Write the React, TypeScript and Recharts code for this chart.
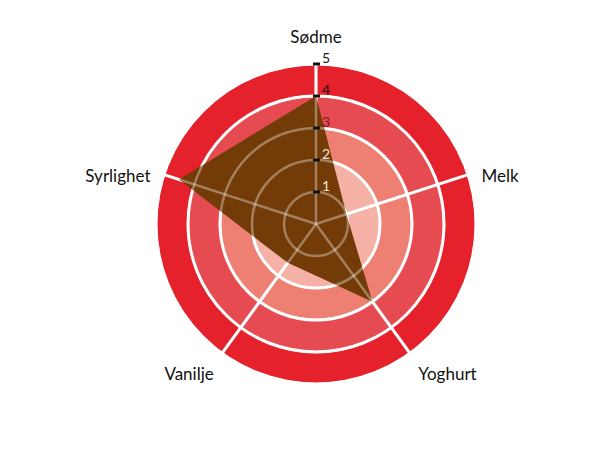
import React from 'react';
import { RadarChart, Radar, PolarGrid, PolarAngleAxis, PolarRadiusAxis, PieChart, Pie } from 'recharts';

const categories = ['Sødme', 'Melk', 'Yoghurt', 'Vanilje', 'Syrlighet'];
const values = [4, 1, 3, 1.5, 4.5];
const radiusDomain = [0, 5];
const ringLevels = [1, 2, 3, 4, 5];
const ringColors = ['#f9d3cb', '#f5b1a6', '#ee8073', '#e64b51', '#e5212b'];

const data = categories.map((c, i) => ({ subject: c, value: values[i] }));

const W = 600;
const H = 440;
const CX = 308;
const CY = 216;
const R = 160;
const FONT = 'Lato, "Open Sans", sans-serif';
const M = { top: 0, right: 0, bottom: 0, left: 0 };

const tickColors: Record<number, string> = {
  1: '#f3e4d6',
  2: '#f3e4d6',
  3: '#8a1320',
  4: '#2a0808',
  5: '#1a1a1a',
};

const AngleTick = (props: any) => {
  const { x, y, payload, textAnchor } = props;
  const rel = (y - CY) / (R + 14);
  const dy = rel < -0.95 ? -14 : 6 + 3 * rel;
  return (
    <text
      x={x}
      y={y + dy}
      textAnchor={textAnchor}
      dominantBaseline="central"
      fontSize={17}
      fontFamily={FONT}
      fill="#111"
    >
      {payload.value}
    </text>
  );
};

const RadiusTick = (props: any) => {
  const { x, y, payload } = props;
  if (payload.value === 0) return null;
  return (
    <g>
      <rect x={x - 3} y={y - 1.5} width={7} height={3} fill="#111" />
      <text
        x={x + 6}
        y={y - 7}
        dominantBaseline="central"
        fontSize={14}
        fontFamily={FONT}
        fill={tickColors[payload.value] || '#111'}
      >
        {payload.value}
      </text>
    </g>
  );
};

export default function App() {
  return (
    <div style={{ position: 'relative', width: W, height: H }}>
      <div style={{ position: 'absolute', left: 0, top: 0 }}>
        <PieChart width={W} height={H} margin={M}>
          {ringLevels.map((lvl, i) => (
            <Pie
              key={lvl}
              data={[{ name: 'ring' + lvl, value: 1 }]}
              dataKey="value"
              cx={CX}
              cy={CY}
              innerRadius={(R * (lvl - 1)) / radiusDomain[1]}
              outerRadius={(R * lvl) / radiusDomain[1]}
              startAngle={90}
              endAngle={-270}
              fill={ringColors[i]}
              stroke={lvl === 5 ? '#dcdcdc' : 'none'}
              strokeWidth={1}
              isAnimationActive={false}
            />
          ))}
        </PieChart>
      </div>
      <div style={{ position: 'absolute', left: 0, top: 0 }}>
        <RadarChart width={W} height={H} cx={CX} cy={CY} outerRadius={R} data={data} margin={M}>
          <PolarGrid gridType="circle" stroke="#ffffff" strokeWidth={3} />
          <PolarAngleAxis dataKey="subject" tick={false} axisLine={false} tickLine={false} />
          <PolarRadiusAxis angle={90} domain={radiusDomain} tick={false} axisLine={false} tickCount={6} />
          <Radar dataKey="value" fill="#723b07" fillOpacity={1} stroke="none" isAnimationActive={false} />
        </RadarChart>
      </div>
      <div style={{ position: 'absolute', left: 0, top: 0 }}>
        <RadarChart width={W} height={H} cx={CX} cy={CY} outerRadius={R} data={data} margin={M}>
          <PolarGrid gridType="circle" stroke="#ffffff" strokeOpacity={0.35} strokeWidth={2.5} />
          <PolarAngleAxis
            dataKey="subject"
            tick={AngleTick}
            tickSize={14}
            axisLine={false}
            tickLine={false}
          />
          <PolarRadiusAxis
            angle={90}
            domain={radiusDomain}
            tickCount={6}
            axisLine={false}
            tickLine={false}
            tick={RadiusTick}
          />
          <Radar dataKey="value" fill="none" fillOpacity={0} stroke="none" isAnimationActive={false} />
        </RadarChart>
      </div>
    </div>
  );
}
